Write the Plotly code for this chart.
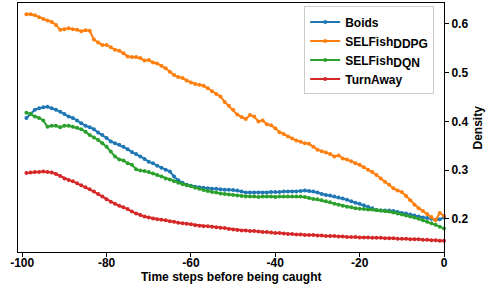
import plotly.graph_objects as go

steps = list(range(-99, 1))

boids = [
    0.407, 0.415, 0.424, 0.427, 0.429, 0.430, 0.427, 0.424, 0.420, 0.415,
    0.410, 0.407, 0.402, 0.396, 0.391, 0.388, 0.384, 0.377, 0.372, 0.366,
    0.359, 0.355, 0.352, 0.348, 0.343, 0.337, 0.333, 0.328, 0.323, 0.317,
    0.314, 0.309, 0.305, 0.301, 0.297, 0.287, 0.279, 0.274, 0.270, 0.268,
    0.266, 0.265, 0.264, 0.263, 0.262, 0.262, 0.261, 0.260, 0.260, 0.259,
    0.258, 0.256, 0.254, 0.254, 0.254, 0.254, 0.254, 0.254, 0.255, 0.255,
    0.255, 0.256, 0.256, 0.256, 0.256, 0.257, 0.258, 0.257, 0.256, 0.254,
    0.251, 0.249, 0.248, 0.246, 0.244, 0.242, 0.239, 0.236, 0.233, 0.231,
    0.228, 0.225, 0.222, 0.218, 0.217, 0.217, 0.217, 0.216, 0.214, 0.212,
    0.211, 0.209, 0.207, 0.205, 0.203, 0.202, 0.200, 0.198, 0.199, 0.203,
]

selfish_ddpg = [
    0.620, 0.620, 0.618, 0.614, 0.610, 0.607, 0.604, 0.598, 0.588, 0.589,
    0.591, 0.589, 0.588, 0.585, 0.587, 0.586, 0.568, 0.562, 0.557, 0.557,
    0.552, 0.547, 0.545, 0.540, 0.533, 0.532, 0.532, 0.530, 0.525, 0.526,
    0.521, 0.519, 0.514, 0.509, 0.502, 0.495, 0.491, 0.489, 0.484, 0.480,
    0.477, 0.475, 0.473, 0.468, 0.462, 0.456, 0.451, 0.440, 0.432, 0.424,
    0.414, 0.409, 0.405, 0.413, 0.410, 0.400, 0.402, 0.394, 0.392, 0.386,
    0.378, 0.374, 0.369, 0.365, 0.361, 0.358, 0.355, 0.354, 0.348, 0.342,
    0.339, 0.336, 0.333, 0.328, 0.330, 0.324, 0.322, 0.318, 0.314, 0.311,
    0.306, 0.301, 0.296, 0.290, 0.283, 0.276, 0.270, 0.263, 0.258, 0.255,
    0.247, 0.238, 0.229, 0.222, 0.216, 0.210, 0.204, 0.197, 0.212, 0.206,
]

selfish_dqn = [
    0.418, 0.415, 0.410, 0.407, 0.402, 0.389, 0.391, 0.391, 0.388, 0.391,
    0.391, 0.389, 0.387, 0.384, 0.379, 0.372, 0.367, 0.362, 0.355, 0.348,
    0.338, 0.328, 0.322, 0.320, 0.314, 0.311, 0.302, 0.299, 0.298, 0.296,
    0.293, 0.290, 0.287, 0.283, 0.281, 0.277, 0.274, 0.271, 0.269, 0.267,
    0.264, 0.262, 0.259, 0.257, 0.255, 0.254, 0.252, 0.251, 0.250, 0.249,
    0.248, 0.247, 0.246, 0.246, 0.246, 0.245, 0.246, 0.246, 0.246, 0.245,
    0.246, 0.246, 0.246, 0.246, 0.246, 0.246, 0.245, 0.243, 0.241, 0.240,
    0.238, 0.236, 0.234, 0.231, 0.229, 0.227, 0.225, 0.224, 0.222, 0.221,
    0.220, 0.219, 0.219, 0.218, 0.217, 0.216, 0.215, 0.213, 0.211, 0.209,
    0.207, 0.205, 0.203, 0.200, 0.197, 0.194, 0.191, 0.188, 0.184, 0.180,
]

turnaway = [
    0.294, 0.295, 0.296, 0.296, 0.297, 0.296, 0.295, 0.292, 0.288, 0.283,
    0.280, 0.277, 0.273, 0.269, 0.265, 0.261, 0.256, 0.251, 0.246, 0.240,
    0.235, 0.231, 0.227, 0.224, 0.220, 0.215, 0.211, 0.208, 0.205, 0.203,
    0.201, 0.199, 0.198, 0.197, 0.195, 0.194, 0.192, 0.191, 0.190, 0.189,
    0.187, 0.186, 0.185, 0.185, 0.184, 0.183, 0.182, 0.181, 0.179, 0.178,
    0.177, 0.176, 0.176, 0.175, 0.175, 0.174, 0.173, 0.173, 0.172, 0.171,
    0.171, 0.170, 0.169, 0.169, 0.168, 0.168, 0.167, 0.167, 0.167, 0.166,
    0.166, 0.165, 0.165, 0.165, 0.164, 0.164, 0.163, 0.163, 0.163, 0.162,
    0.162, 0.162, 0.161, 0.161, 0.161, 0.160, 0.160, 0.160, 0.159, 0.159,
    0.159, 0.158, 0.158, 0.158, 0.157, 0.157, 0.156, 0.156, 0.155, 0.155,
]

SUB = '<sub><span style="font-size:12px">{}</span></sub>'
series = [
    ("Boids", boids, "#1f77b4"),
    ("SELFish" + SUB.format("DDPG"), selfish_ddpg, "#ff7f0e"),
    ("SELFish" + SUB.format("DQN"), selfish_dqn, "#2ca02c"),
    ("TurnAway", turnaway, "#d62728"),
]

x_ticks = [-100, -80, -60, -40, -20, 0]
y_ticks = [0.2, 0.3, 0.4, 0.5, 0.6]

FONT = "Liberation Sans"
BOLD12 = dict(family=FONT, size=12, color="black", weight="bold")

fig = go.Figure()
for name, vals, color in series:
    fig.add_trace(go.Scatter(
        x=steps, y=vals, name=name, mode="lines+markers",
        line=dict(color=color, width=2),
        marker=dict(color=color, size=4),
        cliponaxis=False,
    ))

axis_common = dict(
    showgrid=False, zeroline=False, showline=True, linecolor="black",
    linewidth=1, mirror=True, ticks="outside", ticklen=4, tickcolor="black",
    tickfont=BOLD12, automargin=False,
)

fig.update_layout(
    width=489, height=290,
    margin=dict(l=18, r=45, t=3, b=38),
    paper_bgcolor="white", plot_bgcolor="white",
    font=dict(family=FONT, color="black"),
    xaxis=dict(
        range=[-101, 0], tickvals=x_ticks, ticktext=[str(v) for v in x_ticks],
        ticklabelstandoff=-4,
        **axis_common,
    ),
    yaxis=dict(
        range=[0.132, 0.643], side="right", tickvals=y_ticks,
        ticktext=[f"{v:.1f}" for v in y_ticks],
        **axis_common,
    ),
    legend=dict(
        x=0.977, y=0.986, xanchor="right", yanchor="top",
        bgcolor="rgba(255,255,255,0.8)", bordercolor="#cccccc", borderwidth=1,
        font=BOLD12, tracegroupgap=0, itemwidth=30,
    ),
    showlegend=True,
    annotations=[
        dict(text="Time steps before being caught", xref="paper", yref="paper",
             x=0.5, y=-0.1004, xanchor="center", yanchor="middle",
             showarrow=False, font=BOLD12),
        dict(text="Density", xref="paper", yref="paper",
             x=1.0798, y=0.5, xanchor="center", yanchor="middle",
             textangle=-90, showarrow=False, font=BOLD12),
    ],
)

fig.write_html("out.html", config={"displayModeBar": False},
               post_script="document.body.style.margin='0';")
